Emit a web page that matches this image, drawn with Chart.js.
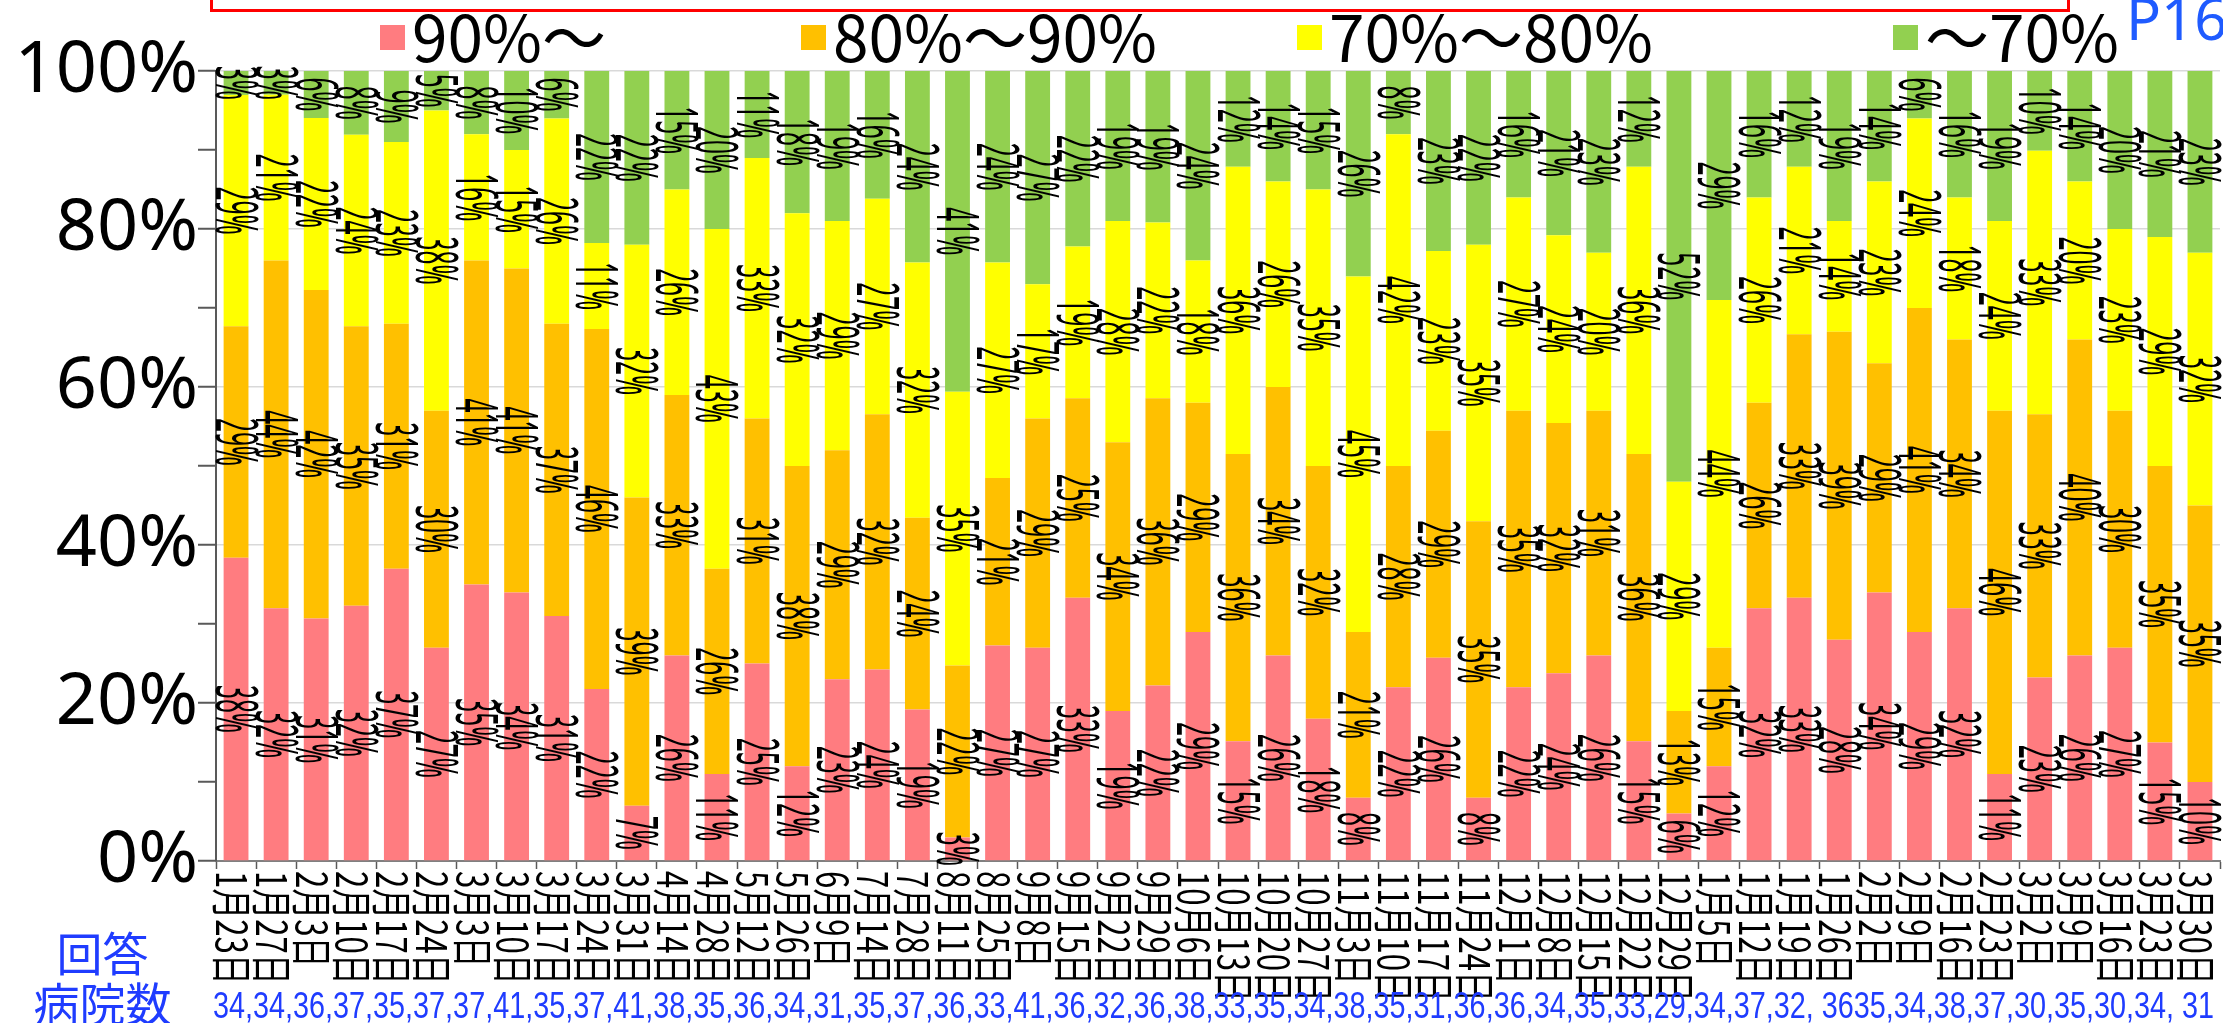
<!DOCTYPE html>
<html><head><meta charset="utf-8">
<script src="https://cdn.jsdelivr.net/npm/chart.js@4.4.0/dist/chart.umd.min.js"></script>
<style>
html,body{margin:0;padding:0;background:#fff;overflow:hidden;width:2223px;height:1023px;}
#wrap{position:relative;width:2223px;height:1023px;overflow:hidden;}
canvas{position:absolute;left:0;top:0;}
#frame{position:absolute;left:210px;top:-60px;width:1854px;height:66px;border:3px solid #ff0000;}
#page{position:absolute;left:2126px;top:-12px;font:58px/60px 'Noto Sans',sans-serif;color:#1f5bff;white-space:nowrap;}
#respLabel{position:absolute;left:30px;top:926px;width:145px;text-align:center;font:46px/50px 'Noto Sans CJK JP';color:#1f3cff;}
#counts{position:absolute;left:213px;top:987px;font:37px/37px 'Liberation Sans';color:#1f3cff;white-space:nowrap;transform-origin:0 0;}
</style></head>
<body><div id="wrap"><canvas id="c" width="2223" height="1023"></canvas>
<div id="frame"></div><div id="page">P16</div>
<div id="respLabel">回答<br>病院数</div>
<div id="counts"></div></div>
<script>
const CATEGORIES = ['1月23日','1月27日','2月3日','2月10日','2月17日','2月24日','3月3日','3月10日','3月17日','3月24日','3月31日','4月14日','4月28日','5月12日','5月26日','6月9日','7月14日','7月28日','8月11日','8月25日','9月8日','9月15日','9月22日','9月29日','10月6日','10月13日','10月20日','10月27日','11月3日','11月10日','11月17日','11月24日','12月1日','12月8日','12月15日','12月22日','12月29日','1月5日','1月12日','1月19日','1月26日','2月2日','2月9日','2月16日','2月23日','3月2日','3月9日','3月16日','3月23日','3月30日'];
const SERIES_NAMES = ['90%〜', '80%〜90%', '70%〜80%', '〜70%'];
const PCT_90_UP    = [38,32,31,32,37,27,35,34,31,22, 7,26,11,25,12,23,24,19, 3,27,27,33,19,22,29,15,26,18, 8,22,26, 8,22,24,26,15, 6,12,32,33,28,34,29,32,11,23,26,27,15,10];
const PCT_80_90    = [29,44,42,35,31,30,41,41,37,46,39,33,26,31,38,29,32,24,22,21,29,25,34,36,29,36,34,32,21,28,29,35,35,32,31,36,13,15,26,33,39,29,41,34,46,33,40,30,35,35];
const PCT_70_80    = [29,21,22,24,23,38,16,15,26,11,32,26,43,33,32,29,27,32,35,27,17,19,28,22,18,36,26,35,45,42,23,35,27,24,20,36,29,44,26,21,14,23,24,18,24,33,20,23,29,32];
const PCT_BELOW_70 = [ 3, 3, 6, 8, 9, 5, 8,10, 6,22,22,15,20,11,18,19,16,24,41,24,27,22,19,19,24,12,14,15,26, 8,23,22,16,21,23,12,52,29,16,12,19,14, 6,16,19,10,14,20,21,23];
const SERIES_PCT = [PCT_90_UP, PCT_80_90, PCT_70_80, PCT_BELOW_70];
const SERIES_COLORS = ['#FF7C80', '#FFC000', '#FFFF00', '#92D050'];
const Y_TICK_LABELS = [0, 20, 40, 60, 80, 100];
const HOSPITAL_COUNTS_TEXT = '34,34,36,37,35,37,37,41,35,37,41,38,35,36,34,31,35,37,36,33,41,36,32,36,38,33,35,34,38,35,31,36,36,34,35,33,29,34,37,32, 3635,34,38,37,30,35,30,34, 31';
const LEGEND_X = [380, 801, 1297, 1893];

const totals = CATEGORIES.map((_, i) => SERIES_PCT.reduce((s, arr) => s + arr[i], 0));
const datasets = SERIES_PCT.map((arr, k) => ({
  label: SERIES_NAMES[k],
  data: arr.map((v, i) => v / totals[i] * 100),
  rawPct: arr,
  backgroundColor: SERIES_COLORS[k],
  borderWidth: 0,
  barPercentage: 0.62,
  categoryPercentage: 1.0,
  stack: 's'
}));

const segLabels = {
  id: 'segLabels',
  afterDatasetsDraw(chart) {
    const ctx = chart.ctx;
    ctx.save();
    ctx.fillStyle = '#000';
    ctx.font = '58px "Noto Sans"';
    ctx.textAlign = 'center';
    ctx.textBaseline = 'middle';
    chart.data.datasets.forEach((ds, di) => {
      const meta = chart.getDatasetMeta(di);
      meta.data.forEach((bar, i) => {
        const cy = (bar.y + bar.base) / 2;
        ctx.save();
        ctx.translate(bar.x - 4, cy);
        ctx.rotate(Math.PI / 2);
        ctx.scale(0.42, 1);
        ctx.fillText(ds.rawPct[i] + '%', 0, 0);
        ctx.restore();
      });
    });
    ctx.restore();
  }
};

const extras = {
  id: 'extras',
  afterDraw(chart) {
    const ctx = chart.ctx;
    const xs = chart.scales.x;
    const area = chart.chartArea;
    ctx.save();
    ctx.fillStyle = '#000';
    ctx.font = '42px "Noto Sans CJK JP"';
    ctx.textAlign = 'left';
    ctx.textBaseline = 'middle';
    CATEGORIES.forEach((lab, i) => {
      const x = xs.getPixelForValue(i);
      ctx.save();
      ctx.translate(x - 4, area.bottom + 10);
      ctx.rotate(Math.PI / 2);
      ctx.scale(0.74, 1);
      ctx.fillText(lab, 0, 0);
      ctx.restore();
    });
    // legend
    ctx.font = '64px "Noto Sans CJK JP"';
    ctx.textBaseline = 'middle';
    chart.data.datasets.forEach((ds, k) => {
      const x0 = LEGEND_X[k];
      ctx.fillStyle = ds.backgroundColor;
      ctx.fillRect(x0, 25, 25, 25);
      ctx.fillStyle = '#000';
      ctx.fillText(ds.label, x0 + 32, 38);
    });
    ctx.restore();
  }
};

new Chart(document.getElementById('c'), {
  type: 'bar',
  data: { labels: CATEGORIES, datasets },
  options: {
    responsive: false,
    animation: false,
    devicePixelRatio: 1,
    layout: { padding: { top: 71, right: 3, bottom: 154, left: 0 } },
    plugins: { legend: { display: false }, tooltip: { enabled: false } },
    scales: {
      x: {
        stacked: true,
        ticks: { display: false },
        grid: { drawOnChartArea: false, drawTicks: true, tickLength: 8, tickColor: '#595959', tickWidth: 1.5 },
        border: { display: true, color: '#808080', width: 2 }
      },
      y: {
        stacked: true,
        min: 0, max: 100,
        afterFit(scale) { scale.width = 216; },
        ticks: {
          stepSize: 10, autoSkip: false, padding: 0,
          color: '#000',
          font: { family: 'Noto Sans', size: 72 },
          callback: (v) => Y_TICK_LABELS.includes(v) ? v + '%' : ''
        },
        grid: {
          color: (c) => (c.tick && Y_TICK_LABELS.includes(c.tick.value)) ? '#d9d9d9' : 'rgba(0,0,0,0)',
          lineWidth: 1.5,
          tickColor: '#595959', tickWidth: 2, tickLength: 18
        },
        border: { display: true, color: '#595959', width: 2 }
      }
    }
  },
  plugins: [segLabels, extras]
});

const cEl = document.getElementById('counts');
cEl.textContent = HOSPITAL_COUNTS_TEXT;
const w = cEl.getBoundingClientRect().width;
cEl.style.transform = 'scaleX(' + (2001 / w) + ')';
</script>
</body></html>
